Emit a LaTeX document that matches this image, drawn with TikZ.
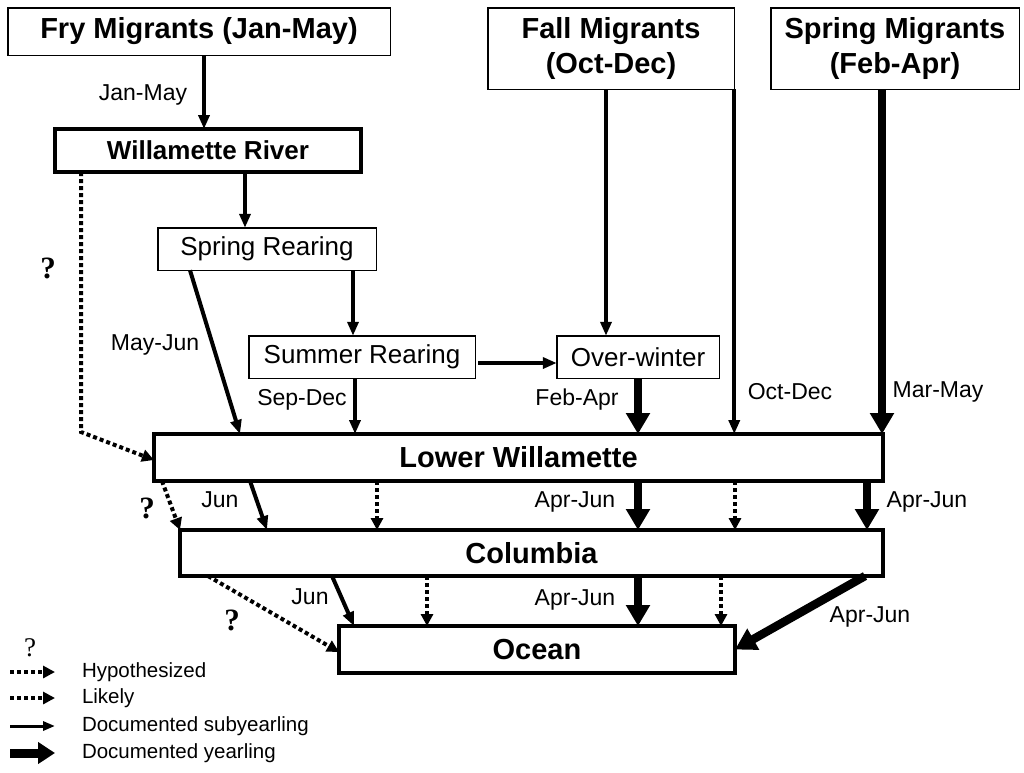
\documentclass[tikz,border=0pt]{standalone}
\usepackage{fontspec}
\setmainfont{Liberation Sans}
\newfontfamily\qfont{Liberation Serif}
\usetikzlibrary{arrows.meta}

\begin{document}
\begin{tikzpicture}[x=1pt, y=-1pt,
  every node/.style={inner sep=0pt, outer sep=0pt},
  thinbox/.style={draw, line width=1.5pt, align=center},
  thickbox/.style={draw, line width=4pt, align=center},
  titlefont/.style={font=\fontsize{29}{35}\selectfont\bfseries},
  stagefont/.style={font=\fontsize{26}{30}\selectfont},
  lbl/.style={font=\fontsize{23}{26}\selectfont},
  legtext/.style={font=\fontsize{20.5}{24}\selectfont, anchor=west},
  qmark/.style={font=\qfont\bfseries\fontsize{31}{31}\selectfont},
  subarrow/.style={-{Triangle[width=11pt,length=14pt]}, line width=4pt},
  yrarrow/.style={-{Triangle[width=23pt,length=21pt]}, line width=8.5pt},
  dotarrow/.style={-{Triangle[width=12pt,length=12pt]}, line width=4pt, dash pattern=on 4pt off 3pt},
]
  \useasboundingbox (0,0) rectangle (1024,772);

  % sources
  \node[thinbox, titlefont, minimum width=382.5pt, minimum height=47.5pt] (fry) at (199,31.5) {Fry Migrants (Jan-May)};
  \node[thinbox, titlefont, minimum width=246.5pt, minimum height=81.5pt] (fall) at (611,48.5) {Fall Migrants\\(Oct-Dec)};
  \node[thinbox, titlefont, minimum width=248.5pt, minimum height=81.5pt] (spm) at (895,48.5) {Spring Migrants\\(Feb-Apr)};

  % rearing stages
  \node[thickbox, font=\fontsize{26}{30}\selectfont\bfseries, minimum width=306pt, minimum height=43pt] (wr) at (208,150.5) {Willamette River};
  \node[thinbox, stagefont, minimum width=218.5pt, minimum height=42.5pt] (sr) at (267,249) {Spring Rearing};
  \node[thinbox, stagefont, minimum width=226.5pt, minimum height=42.5pt] (sumr) at (362,357) {Summer Rearing};
  \node[thinbox, stagefont, minimum width=162.5pt, minimum height=42.5pt] (ow) at (638,357) {Over-winter};

  % estuary and ocean
  \node[thickbox, titlefont, minimum width=729pt, minimum height=47pt] (lw) at (518.5,457.5) {Lower Willamette};
  \node[thickbox, titlefont, minimum width=703pt, minimum height=46pt] (col) at (531.5,553) {Columbia};
  \node[thickbox, titlefont, minimum width=396pt, minimum height=47pt] (ocean) at (537,649.5) {Ocean};

  % upper connectors
  \draw[subarrow] (fry.south -| 204,0) -- (wr.north -| 204,0);
  \node[lbl] (jm) at (143,95) {Jan-May};
  \draw[subarrow] (wr.south -| 245,0) -- (sr.north -| 245,0);
  \coordinate (bend) at (81,432);
  \draw[dotarrow] (wr.south -| 81,0) -- (bend) -- (lw.west |- 0,460);
  \node[qmark] (q1) at (48,268) {?};
  \draw[subarrow] (sr.south -| 190,0) -- (lw.north -| 240,0);
  \node[lbl] (mj) at (155,345) {May-Jun};
  \draw[subarrow] (sr.south -| 353,0) -- (sumr.north -| 353,0);
  \draw[subarrow] (sumr.south -| 355,0) -- (lw.north -| 355,0);
  \node[lbl] (sd) at (302,400) {Sep-Dec};
  \draw[subarrow] (sumr.east) ++(3,6) -- (ow.west |- 0,363);
  \draw[subarrow] (fall.south -| 606,0) -- (ow.north -| 606,0);
  \draw[subarrow] (fall.south east) -- (lw.north -| fall.south east);
  \node[lbl] (od) at (790,392) {Oct-Dec};
  \draw[yrarrow] (ow.south) -- (lw.north -| ow.south);
  \node[lbl] (fa) at (577,400) {Feb-Apr};
  \draw[yrarrow] (spm.south -| 882,0) -- (lw.north -| 882,0);
  \node[lbl] (mm) at (938,392) {Mar-May};

  % lower willamette to columbia
  \draw[dotarrow] (lw.south -| 162,0) -- (col.north west);
  \node[qmark] (q2) at (147,508) {?};
  \draw[subarrow] (lw.south -| 250,0) -- (col.north -| 267,0);
  \node[lbl] (j1) at (220,500) {Jun};
  \draw[dotarrow] (lw.south -| 377,0) -- (col.north -| 377,0);
  \draw[yrarrow] (lw.south -| 638,0) -- (col.north -| 638,0);
  \node[lbl] (aj1) at (575,502) {Apr-Jun};
  \draw[dotarrow] (lw.south -| 735,0) -- (col.north -| 735,0);
  \draw[yrarrow] (lw.south -| 867,0) -- (col.north -| 867,0);
  \node[lbl] (aj2) at (927,502) {Apr-Jun};

  % columbia to ocean
  \draw[dotarrow] (col.south -| 208,0) -- (ocean.west |- 0,652);
  \node[qmark] (q3) at (232,620) {?};
  \draw[subarrow] (col.south -| 332,0) -- (ocean.north -| 354,0);
  \node[lbl] (j2) at (310,597) {Jun};
  \draw[dotarrow] (col.south -| 427,0) -- (ocean.north -| 427,0);
  \draw[yrarrow] (col.south -| 638,0) -- (ocean.north -| 638,0);
  \node[lbl] (aj3) at (575,600) {Apr-Jun};
  \draw[dotarrow] (col.south -| 721,0) -- (ocean.north -| 721,0);
  \draw[yrarrow] (col.south -| 865,0) -- (ocean.east);
  \node[lbl] (aj4) at (870,617) {Apr-Jun};

  % legend
  \node[font=\qfont\fontsize{27}{27}\selectfont] (lq) at (30,648) {?};
  \node[legtext] (lhyp) at (82,672) {Hypothesized};
  \coordinate (lhypa) at (10,672);
  \draw[dotarrow] (lhypa) -- (lhyp.west -| 55,0);
  \node[legtext] (llik) at (82,698) {Likely};
  \coordinate (llika) at (10,698);
  \draw[dotarrow] (llika) -- (llik.west -| 55,0);
  \node[legtext] (lsub) at (82,726) {Documented subyearling};
  \coordinate (lsuba) at (10,726);
  \draw[-{Triangle[width=9pt,length=12pt]}, line width=3pt] (lsuba) -- (lsub.west -| 55,0);
  \node[legtext] (lyr) at (82,753) {Documented yearling};
  \coordinate (lyra) at (10,753);
  \draw[-{Triangle[width=21pt,length=17pt]}, line width=9pt] (lyra) -- (lyr.west -| 55,0);
\end{tikzpicture}
\end{document}
